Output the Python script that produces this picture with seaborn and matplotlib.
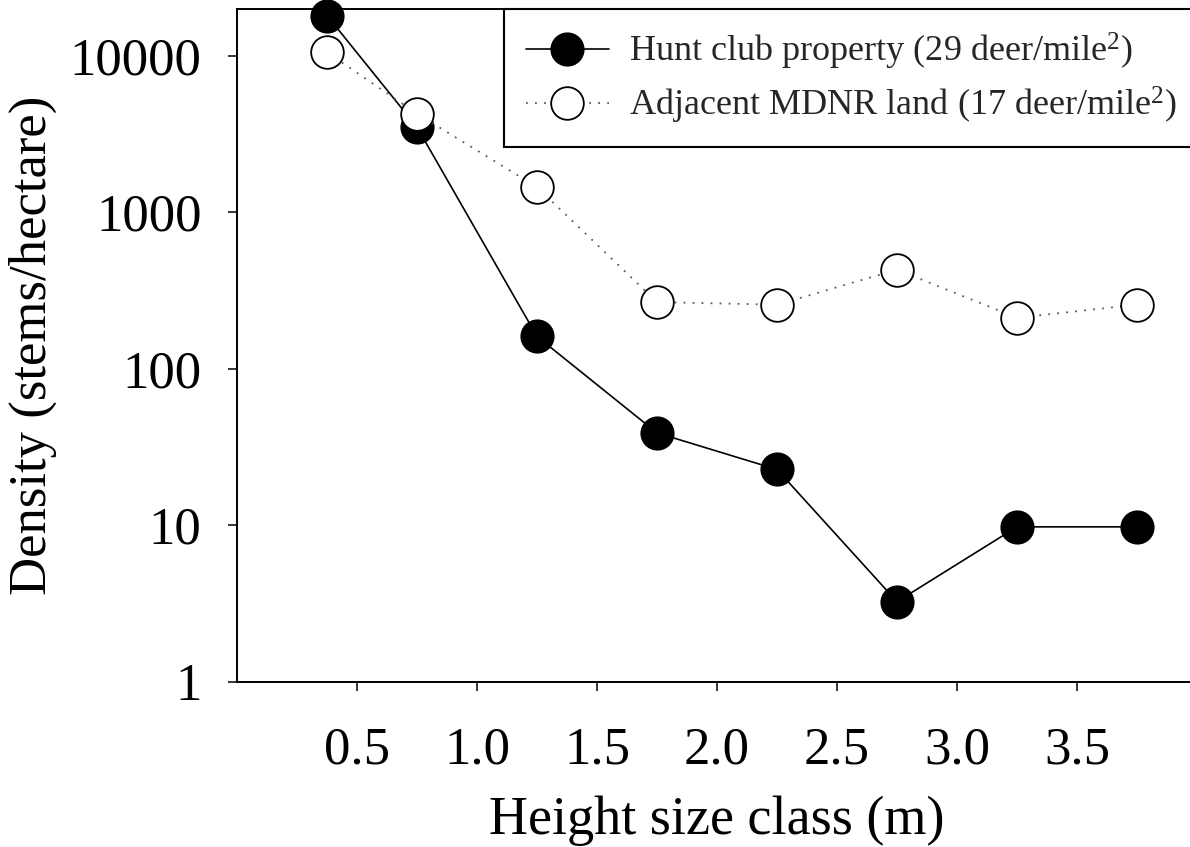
import numpy as np
import pandas as pd
import seaborn as sns
import matplotlib
matplotlib.use("Agg")
import matplotlib.pyplot as plt
from matplotlib.ticker import FixedLocator, FixedFormatter, NullLocator

# ---- data ----
height_class = [0.375, 0.75, 1.25, 1.75, 2.25, 2.75, 3.25, 3.75]
hunt_club = [18150, 3510, 161, 38.9, 22.7, 3.24, 9.75, 9.75]
mdnr_land = [10570, 4275, 1452, 267, 257, 430, 212, 257]
hunt_label = "Hunt club property (29 deer/mile$^2$)"
mdnr_label = "Adjacent MDNR land (17 deer/mile$^2$)"
x_ticks = [0.5, 1.0, 1.5, 2.0, 2.5, 3.0, 3.5]
x_tick_labels = ["0.5", "1.0", "1.5", "2.0", "2.5", "3.0", "3.5"]
y_ticks = [1, 10, 100, 1000, 10000]
y_tick_labels = ["1", "10", "100", "1000", "10000"]
x_label = "Height size class (m)"
y_label = "Density (stems/hectare)"

sns.set_theme(style="ticks")
plt.rcParams["font.family"] = ["Liberation Serif", "DejaVu Serif"]
plt.rcParams["mathtext.fontset"] = "custom"
plt.rcParams["mathtext.rm"] = "Liberation Serif"
plt.rcParams["mathtext.it"] = "Liberation Serif:italic"

fig = plt.figure(figsize=(11.9, 8.47), dpi=100)
ax = fig.add_axes([237 / 1190, 165.5 / 847, 960 / 1190, 672.5 / 847])

df_h = pd.DataFrame({"x": height_class, "y": hunt_club})
df_m = pd.DataFrame({"x": height_class, "y": mdnr_land})

sns.lineplot(data=df_h, x="x", y="y", ax=ax, color="black", linewidth=1.2,
             marker="o", markersize=23.5, markerfacecolor="black",
             markeredgecolor="black", markeredgewidth=1.1,
             label=hunt_label, clip_on=False, zorder=3)
sns.lineplot(data=df_m, x="x", y="y", ax=ax, color="0.35", linewidth=1.3,
             linestyle=(0, (1, 4)),
             marker="o", markersize=23.5, markerfacecolor="white",
             markeredgecolor="black", markeredgewidth=1.3,
             label=mdnr_label, clip_on=False, zorder=4)

ax.set_yscale("log")
ax.set_xlim(0, 4.0)
ax.set_ylim(1, 20000)

ax.yaxis.set_major_locator(FixedLocator(y_ticks))
ax.yaxis.set_major_formatter(FixedFormatter(y_tick_labels))
ax.yaxis.set_minor_locator(NullLocator())
ax.xaxis.set_major_locator(FixedLocator(x_ticks))
ax.xaxis.set_major_formatter(FixedFormatter(x_tick_labels))

ax.tick_params(axis="both", direction="out", length=6.5, width=1.1,
               color="black", labelsize=38, labelcolor="black")
ax.tick_params(axis="y", pad=19)
ax.tick_params(axis="x", pad=26)

for s in ax.spines.values():
    s.set_color("black")
    s.set_linewidth(1.4)

ax.set_xlabel(x_label, fontsize=39, labelpad=15, color="black")
ax.set_ylabel(y_label, fontsize=38, labelpad=9, color="black")

leg = ax.legend(loc="upper left", bbox_to_anchor=((504 - 237) / 960, 1.0),
                borderaxespad=0, fontsize=26, frameon=True, fancybox=False,
                edgecolor="black", handlelength=2.3, handletextpad=0.55,
                borderpad=0.6, labelspacing=0.35)
leg.get_frame().set_linewidth(1.5)
leg.get_frame().set_alpha(1)

fig.savefig("out.png", dpi=100)
